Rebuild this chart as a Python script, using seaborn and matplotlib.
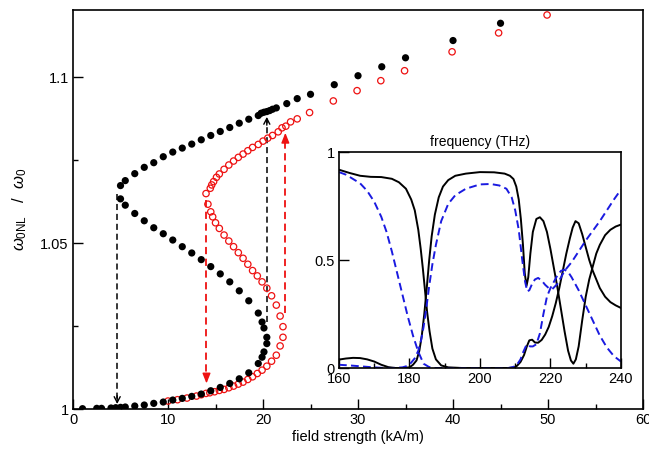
import matplotlib
matplotlib.use("Agg")
import matplotlib.pyplot as plt
import seaborn as sns
import numpy as np

# ---------------- main data (field strength kA/m, omega_0NL/omega_0) ----------------
black_x = [1.0, 2.5, 3.0, 4.0, 4.5, 5.0, 5.5, 6.5, 7.5, 8.5, 9.5, 10.5, 11.5, 12.5, 13.5, 14.5,
           15.5, 16.5, 17.5, 18.5, 19.5, 19.9, 20.1, 20.4,
           20.4, 20.1, 19.9, 19.5, 18.5, 17.5, 16.5, 15.5, 14.5, 13.5, 12.5, 11.5, 10.5, 9.5,
           8.5, 7.5, 6.5, 5.5, 5.0,
           5.0, 5.5, 6.5, 7.5, 8.5, 9.5, 10.5, 11.5, 12.5, 13.5, 14.5, 15.5, 16.5, 17.5, 18.5,
           19.5, 19.8, 20.1, 20.4, 20.7, 21.0, 21.4, 22.5, 23.6, 25.0, 27.5, 30.0, 32.5, 35.0,
           40.0, 45.0]
black_y = [1.0001, 1.0002, 1.0002, 1.0003, 1.0004, 1.0005, 1.0006, 1.0009, 1.0012, 1.0017,
           1.0021, 1.0027, 1.0032, 1.0038, 1.0045, 1.0055, 1.0065, 1.0077, 1.0091, 1.0109,
           1.0137, 1.0156, 1.0172, 1.0197,
           1.0216, 1.0244, 1.0262, 1.0289, 1.0326, 1.0356, 1.0383, 1.0407, 1.0429, 1.0450,
           1.0470, 1.0489, 1.0509, 1.0528, 1.0546, 1.0567, 1.0589, 1.0614, 1.0633,
           1.0673, 1.0688, 1.0709, 1.0728, 1.0742, 1.0760, 1.0774, 1.0786, 1.0798, 1.0811,
           1.0824, 1.0836, 1.0848, 1.0861, 1.0873, 1.0884, 1.0891, 1.0894, 1.0896, 1.0899,
           1.0903, 1.0907, 1.0920, 1.0935, 1.0948, 1.0977, 1.1004, 1.1031, 1.1058, 1.1110,
           1.1162]

red_x = [10.0, 11.0, 12.0, 13.0, 13.5, 14.0, 14.4, 14.9, 15.4, 15.9, 16.4, 16.9, 17.4, 17.9,
         18.4, 18.9, 19.4, 19.9, 20.4, 20.9, 21.4, 21.8, 22.1,
         22.1, 21.8, 21.4, 20.9, 20.4, 19.9, 19.4, 18.9, 18.4, 17.9, 17.4, 16.9, 16.4, 15.9,
         15.4, 15.0, 14.7, 14.5, 14.2, 14.0,
         14.45, 14.6, 14.8, 15.1, 15.4, 15.9, 16.4, 16.9, 17.4, 17.9, 18.4, 18.9, 19.5, 20.0,
         20.5, 21.0, 21.6, 22.0, 22.4, 22.9, 23.6, 24.9, 27.4, 29.9, 32.4, 34.9, 39.9, 44.8,
         49.9]
red_y = [1.0024, 1.0028, 1.0033, 1.0039, 1.0043, 1.0047, 1.0049, 1.0052, 1.0056, 1.0059,
         1.0064, 1.0069, 1.0075, 1.0081, 1.0089, 1.0097, 1.0107, 1.0117, 1.0129, 1.0144,
         1.0162, 1.0190, 1.0216,
         1.0248, 1.0280, 1.0313, 1.0341, 1.0364, 1.0383, 1.0401, 1.0417, 1.0436, 1.0454,
         1.0471, 1.0489, 1.0506, 1.0524, 1.0544, 1.0561, 1.0579, 1.0594, 1.0617, 1.0649,
         1.0665, 1.0675, 1.0685, 1.0698, 1.0708, 1.0722, 1.0735, 1.0747, 1.0758, 1.0768,
         1.0778, 1.0788, 1.0797, 1.0807, 1.0816, 1.0824, 1.0835, 1.0847, 1.0852, 1.0865,
         1.0874, 1.0893, 1.0928, 1.0959, 1.0989, 1.1019, 1.1076, 1.1133, 1.1187]

# jump arrows (x, start y, end y)
black_arrow_x = [4.65, 20.4]
black_arrow_y0 = [1.0649, 1.0262]
black_arrow_y1 = [1.0015, 1.0880]
red_arrow_x = [14.05, 22.35]
red_arrow_y0 = [1.0630, 1.0288]
red_arrow_y1 = [1.0077, 1.0832]

# ---------------- inset data (frequency THz, transmission) ----------------
ins_black1_x = [160, 163, 166, 169, 172, 175, 177, 179, 180.5, 181.5, 182.5, 183.2, 183.8, 184.4,
                185, 185.7, 186.5, 187.5, 189, 191, 195, 200, 205, 208, 209.5, 210.5, 211.5,
                212.5, 213.3, 214, 214.8, 215.6, 216.5, 217.5, 218.5, 219.5, 220.5, 221.5,
                222.5, 223.5, 224.5, 225.5, 226.3, 227.1, 228, 229, 230, 231, 232, 233, 234,
                235.5, 237, 238.5, 240]
ins_black1_y = [0.918, 0.903, 0.89, 0.885, 0.884, 0.876, 0.86, 0.83, 0.78, 0.73, 0.64, 0.55,
                0.46, 0.36, 0.26, 0.17, 0.09, 0.04, 0.012, 0.003, 0, 0, 0, 0, 0.002, 0.01,
                0.028, 0.06, 0.1, 0.128, 0.131, 0.118, 0.117, 0.13, 0.155, 0.19, 0.24, 0.3,
                0.37, 0.45, 0.53, 0.6, 0.65, 0.68, 0.67, 0.62, 0.56, 0.5, 0.45, 0.41, 0.37,
                0.33, 0.305, 0.29, 0.278]
ins_black2_x = [160, 162, 164, 166, 168, 170, 172, 174, 176, 178, 180, 181, 182, 182.8, 183.5,
                184.2, 184.9, 185.6, 186.3, 187.2, 188.3, 189.5, 191, 193, 196, 200, 204, 207,
                208.5, 209.5, 210.3, 211, 211.6, 212.2, 212.7, 213.2, 213.7, 214.3, 215, 216,
                217, 218, 219, 220, 221, 222, 223, 224, 225, 225.8, 226.5, 227.2, 228, 229,
                230, 231, 232, 233, 234, 235.5, 237, 238.5, 240]
ins_black2_y = [0.039, 0.044, 0.047, 0.046, 0.04, 0.03, 0.015, 0.004, 0, 0, 0.003, 0.015,
                0.035, 0.08, 0.15, 0.25, 0.37, 0.5, 0.61, 0.71, 0.79, 0.84, 0.87, 0.89, 0.9,
                0.907, 0.906, 0.9, 0.89, 0.875, 0.84, 0.78, 0.69, 0.57, 0.44, 0.38, 0.42, 0.53,
                0.63, 0.69, 0.698, 0.68, 0.63, 0.55, 0.46, 0.37, 0.27, 0.17, 0.08, 0.035, 0.02,
                0.04, 0.1, 0.22, 0.33, 0.41, 0.47, 0.53, 0.57, 0.615, 0.64, 0.655, 0.664]
ins_blue1_x = [160, 162, 164, 166, 168, 170, 172, 173.5, 175, 176.5, 178, 179.5, 181, 182.5,
               184, 185.5, 187, 190, 195, 200, 205, 208, 209.5, 210.5, 211.5, 212.3, 213,
               213.6, 214.2, 215, 216, 217, 218, 219, 220, 221, 222, 223, 224, 225, 226, 228,
               230, 232, 234, 236, 238, 240]
ins_blue1_y = [0.907, 0.895, 0.875, 0.855, 0.82, 0.77, 0.7, 0.63, 0.54, 0.44, 0.34, 0.24, 0.15,
               0.075, 0.02, 0.005, 0, 0, 0, 0, 0, 0, 0.005, 0.015, 0.04, 0.075, 0.1, 0.11,
               0.1, 0.1, 0.11, 0.16, 0.25, 0.33, 0.37, 0.4, 0.43, 0.45, 0.455, 0.445, 0.42,
               0.36, 0.29, 0.22, 0.15, 0.095, 0.055, 0.03]
ins_blue2_x = [160, 163, 166, 169, 172, 175, 178, 179.5, 180.5, 181.5, 182.5, 183.3, 184,
               184.8, 185.6, 186.5, 187.5, 189, 191, 193, 196, 200, 203, 205.5, 207.5, 209,
               210, 211, 212, 212.8, 213.4, 214, 214.8, 215.6, 216.5, 217.5, 218.5, 219.5,
               220.5, 222, 224, 226, 228, 230, 232, 234, 236, 238, 240]
ins_blue2_y = [0.015, 0.012, 0.008, 0.004, 0.001, 0, 0.003, 0.01, 0.025, 0.045, 0.08, 0.13,
               0.19, 0.28, 0.38, 0.48, 0.57, 0.68, 0.76, 0.8, 0.83, 0.85, 0.852, 0.845, 0.83,
               0.79, 0.73, 0.64, 0.5, 0.4, 0.355, 0.36, 0.39, 0.41, 0.417, 0.405, 0.385, 0.37,
               0.365, 0.39, 0.45, 0.49, 0.54, 0.59, 0.635, 0.68, 0.73, 0.78, 0.826]

# ---------------- style ----------------
sns.set_theme(style="white")
plt.rcParams["font.family"] = ["Liberation Sans", "DejaVu Sans"]
plt.rcParams["mathtext.fontset"] = "custom"
plt.rcParams["mathtext.rm"] = "Liberation Sans"
plt.rcParams["mathtext.it"] = "Liberation Sans:italic"

fig = plt.figure(figsize=(6.49, 4.5), dpi=100)
ax = fig.add_axes([0.1125, 0.0911, 0.8783, 0.8867])

sns.scatterplot(x=red_x, y=red_y, ax=ax, color="red", s=21, marker="o", zorder=3, legend=False)
coll = ax.collections[-1]
coll.set_facecolor("none")
coll.set_edgecolor("#ee1111")
coll.set_linewidth(0.9)
sns.scatterplot(x=black_x, y=black_y, ax=ax, color="black", s=27, marker="o",
                edgecolor="none", zorder=4, legend=False)

for xa, y0, y1 in zip(black_arrow_x, black_arrow_y0, black_arrow_y1):
    d = np.sign(y1 - y0)
    ax.plot([xa, xa], [y0, y1 - d * 0.0008], color="black", lw=1.1,
            linestyle=(0, (4, 2.5)), zorder=2)
    ax.annotate("", xy=(xa, y1), xytext=(xa, y1 - d * 0.0025),
                arrowprops=dict(arrowstyle="->,head_length=0.35,head_width=0.18",
                                color="black", lw=1.0, shrinkA=0, shrinkB=0), zorder=2)
for xa, y0, y1 in zip(red_arrow_x, red_arrow_y0, red_arrow_y1):
    d = np.sign(y1 - y0)
    ax.plot([xa, xa], [y0, y1 - d * 0.0015], color="#ee1111", lw=1.3,
            linestyle=(0, (4, 2.5)), zorder=2)
    ax.annotate("", xy=(xa, y1), xytext=(xa, y1 - d * 0.003),
                arrowprops=dict(arrowstyle="-|>,head_length=0.5,head_width=0.2",
                                color="#ee1111", lw=1.0, shrinkA=0, shrinkB=0), zorder=2)

ax.set_xlim(0, 60)
ax.set_ylim(1.0, 1.1202)
ax.set_xticks([0, 10, 20, 30, 40, 50, 60])
ax.set_xticks([5, 15, 25, 35, 45, 55], minor=True)
ax.set_yticks([1.0, 1.05, 1.1])
ax.set_yticklabels(["1", "1.05", "1.1"])
ax.set_yticks([1.025, 1.075], minor=True)
ax.tick_params(which="both", direction="in", bottom=True, left=True, top=False, right=False,
               colors="black", labelsize=10.5, pad=3)
ax.tick_params(which="major", length=7.5, width=1.0)
ax.tick_params(which="minor", length=3.8, width=1.0)
for sp in ax.spines.values():
    sp.set_color("black")
    sp.set_linewidth(1.2)
ax.set_xlabel("field strength (kA/m)", fontsize=10.5, color="black", labelpad=2)
ax.set_ylabel(r"$\omega_{\mathrm{0NL}}$   /  $\omega_{\mathrm{0}}$", fontsize=12,
              color="black", labelpad=8)

# ---------------- inset ----------------
axi = fig.add_axes([0.5223, 0.1822, 0.4345, 0.48])
axi.set_facecolor("white")
for xs, ys in [(ins_black1_x, ins_black1_y), (ins_black2_x, ins_black2_y)]:
    sns.lineplot(x=xs, y=ys, ax=axi, color="black", lw=1.4, estimator=None, sort=False)
for xs, ys in [(ins_blue1_x, ins_blue1_y), (ins_blue2_x, ins_blue2_y)]:
    sns.lineplot(x=xs, y=ys, ax=axi, color="#1a1ae0", lw=1.4, estimator=None, sort=False,
                 linestyle=(0, (4, 2.2)))
axi.set_xlim(160, 240)
axi.set_ylim(0, 1)
axi.set_xticks([160, 180, 200, 220, 240])
axi.set_xticks([170, 190, 210, 230], minor=True)
axi.set_yticks([0, 0.5, 1])
axi.set_yticklabels(["0", "0.5", "1"])
axi.tick_params(which="both", direction="in", bottom=True, left=True, top=False, right=False,
                colors="black", labelsize=10.5, pad=3)
axi.tick_params(which="major", length=7, width=1.0)
axi.tick_params(which="minor", length=3.5, width=1.0)
for sp in axi.spines.values():
    sp.set_color("black")
    sp.set_linewidth(1.2)
axi.set_title("frequency (THz)", fontsize=10, color="black", pad=4)

fig.savefig("out.png", dpi=100)
